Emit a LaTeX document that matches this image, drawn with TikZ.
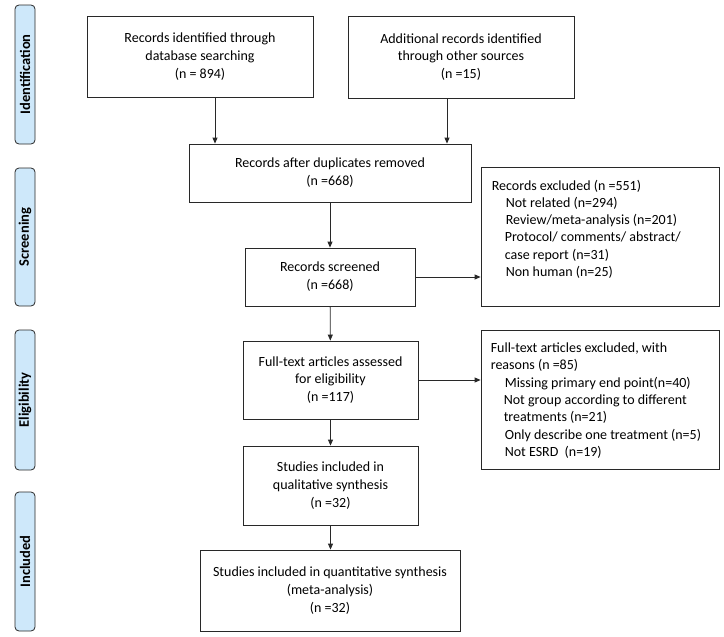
\documentclass[tikz,border=0pt]{standalone}
\usepackage{fontspec}
\setmainfont{Carlito}
\usetikzlibrary{arrows.meta}
\definecolor{sidefill}{RGB}{206,232,250}
\definecolor{linec}{RGB}{40,40,40}
\tikzset{
  box/.style={draw=linec, line width=0.8pt, rectangle, align=center, inner sep=2pt,
    font=\fontsize{14}{17.8}\selectfont},
  side/.style={draw=linec, line width=0.8pt, fill=sidefill, rounded corners=4pt,
    minimum width=20pt, inner sep=0pt},
  sidetext/.style={rotate=90, font=\bfseries\fontsize{14.5}{16}\selectfont},
  listtext/.style={align=left, inner sep=0pt, anchor=north west,
    font=\fontsize{14}{17.3}\selectfont},
  arr/.style={draw=linec, line width=0.8pt, -{Triangle[length=6pt,width=5pt]}}
}
\begin{document}
\begin{tikzpicture}[x=1pt,y=-1pt]
\useasboundingbox (0,0) rectangle (724,637);
% side labels
\node[side, minimum height=139pt] (s1) at (25,74.5) {};
\node[sidetext] (s1t) at (s1) {Identification};
\node[side, minimum height=138pt] (s2) at (25,237) {};
\node[sidetext] (s2t) at (s2) {Screening};
\node[side, minimum height=140pt] (s3) at (25,400) {};
\node[sidetext] (s3t) at (s3) {Eligibility};
\node[side, minimum height=139pt] (s4) at (25,561.5) {};
\node[sidetext] (s4t) at (s4) {Included};
% boxes
\node[box, minimum width=226pt, minimum height=81pt] (id1) at (200,56.5)
  {Records identified through\\database searching\\(n = 894)};
\node[box, minimum width=226pt, minimum height=82pt] (id2) at (461,57)
  {Additional records identified\\through other sources\\(n =15)};
\node[box, minimum width=282pt, minimum height=58pt] (dup) at (330,173)
  {Records after duplicates removed\\(n =668)};
\node[box, minimum width=170pt, minimum height=58pt] (scr) at (330,277)
  {Records screened\\(n =668)};
\node[box, minimum width=238pt, minimum height=139pt] (ex1) at (600,236.5) {};
\node[listtext] (ex1t) at ([xshift=11pt,yshift=-13pt]ex1.north west)
  {Records excluded (n =551)\\
   \hspace{14pt}Not related (n=294)\\
   \hspace{14pt}Review/meta-analysis (n=201)\\
   \hspace{13pt}Protocol/ comments/ abstract/\\
   \hspace{13pt}case report (n=31)\\
   \hspace{14pt}Non human (n=25)};
\node[box, minimum width=175pt, minimum height=78pt] (ft) at (330.5,380)
  {Full-text articles assessed\\for eligibility\\(n =117)};
\node[box, minimum width=238pt, minimum height=139pt] (ex2) at (600,399.5) {};
\node[listtext] (ex2t) at ([xshift=10pt,yshift=-13pt]ex2.north west)
  {Full-text articles excluded, with\\
   reasons (n =85)\\
   \hspace{14pt}Missing primary end point(n=40)\\
   \hspace{13pt}Not group according to different\\
   \hspace{13pt}treatments (n=21)\\
   \hspace{14pt}Only describe one treatment (n=5)\\
   \hspace{14pt}Not ESRD\ \ (n=19)};
\node[box, minimum width=175pt, minimum height=79pt] (qual) at (330.5,485.5)
  {Studies included in\\qualitative synthesis\\(n =32)};
\node[box, minimum width=260pt, minimum height=81pt] (quant) at (330,590.5)
  {Studies included in quantitative synthesis\\(meta-analysis)\\(n =32)};
% arrows
\draw[arr] ([xshift=15pt]id1.south) -- ([xshift=15pt]id1.south |- dup.north);
\draw[arr] ([xshift=-14pt]id2.south) -- ([xshift=-14pt]id2.south |- dup.north);
\draw[arr] (dup) -- (scr);
\draw[arr] (scr) -- (ft);
\draw[arr] (ft) -- (qual);
\draw[arr] (qual.south) -- (qual.south |- quant.north);
\draw[arr] (scr.east) -- (scr.east -| ex1.west);
\draw[arr] (ft.east) -- (ft.east -| ex2.west);
\end{tikzpicture}
\end{document}
